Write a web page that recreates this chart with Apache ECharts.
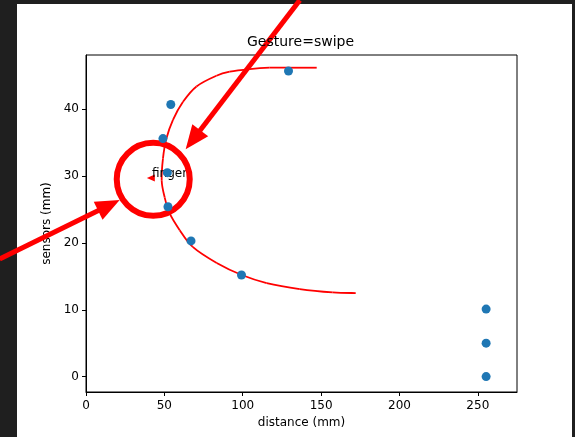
<!DOCTYPE html>
<html>
<head>
<meta charset="utf-8">
<script src="https://cdn.jsdelivr.net/npm/echarts@6/dist/echarts.min.js"></script>
<style>
  html, body { margin: 0; padding: 0; background: #1f1f1f; }
  #paper { position: absolute; left: 17px; top: 4px; width: 555px; height: 433px; background: #fff; }
  #main { position: absolute; left: 0; top: 0; width: 575px; height: 437px; }
</style>
</head>
<body>
<div id="paper"></div>
<div id="main"></div>
<script>
// sensor readings
var pointX = [54.1, 49.1, 51.9, 52.3, 67.0, 99.2, 129.2, 255.3, 255.3, 255.3];
var pointY = [40.7, 35.6, 30.5, 25.4, 20.3, 15.2, 45.7, 10.1, 5.0, 0];

// fitted red curve
var curveX = [147.2, 129.9, 117.2, 104.5, 91.7, 83.2, 70.5, 61.9, 55.5, 51.3, 49.1, 48.3,
              50.2, 53.4, 59.8, 68.1, 83.4, 99.4, 115.3, 136.4, 157.4, 172.1];
var curveY = [46.2, 46.2, 46.2, 46.0, 45.6, 45.0, 43.4, 41.1, 38.4, 35.6, 32.6, 29.3,
              26.8, 24.4, 21.9, 19.4, 17.0, 15.2, 14.0, 13.1, 12.6, 12.5];

// axis ticks
var xTicks = [0, 50, 100, 150, 200, 250];
var yTicks = [0, 10, 20, 30, 40];

// hand drawn annotations (data units)
var arrowStarts = [[-55.1, 17.6], [136.4, 56.3]];
var arrowEnds = [[21.5, 26.4], [63.6, 34.0]];
var ringCenter = [42.9, 29.5];
var labelText = 'finger';
var labelPos = [42.1, 30.3];
var pointerTip = [38.8, 29.7];

var chart = echarts.init(document.getElementById('main'), null, {renderer: 'canvas'});

var points = pointX.map(function (x, i) { return [x, pointY[i]]; });
var curve = curveX.map(function (x, i) { return [x, curveY[i]]; });
var arrows = arrowStarts.map(function (s, i) { return [s[0], s[1], arrowEnds[i][0], arrowEnds[i][1]]; });

var font = '"DejaVu Sans", sans-serif';
var red = '#ff0000';

function axisCommon(ticks) {
  return {
    type: 'value',
    splitLine: {show: false},
    axisLine: {onZero: false, lineStyle: {color: '#000', width: 1}},
    axisTick: {length: 4, lineStyle: {color: '#000'}, customValues: ticks},
    axisLabel: {color: '#000', fontSize: 12, fontFamily: font, customValues: ticks},
    nameTextStyle: {color: '#000', fontSize: 12, fontFamily: font}
  };
}

var xAxis = axisCommon(xTicks);
xAxis.min = 0; xAxis.max = 275;
xAxis.name = 'distance (mm)';
xAxis.nameLocation = 'middle';
xAxis.nameGap = 25;
xAxis.axisLabel.margin = 8;

var yAxis = axisCommon(yTicks);
yAxis.min = -2.3; yAxis.max = 48.1;
yAxis.name = 'sensors (mm)';
yAxis.nameLocation = 'middle';
yAxis.nameGap = 31;
yAxis.axisLabel.margin = 7;

// catmull-rom segment between curve[i] and curve[i+1], in pixels
function curveSegment(params, api) {
  var i = params.dataIndex;
  var n = curve.length;
  if (i >= n - 1) return null;
  var p0 = api.coord(curve[Math.max(i - 1, 0)]);
  var p1 = api.coord(curve[i]);
  var p2 = api.coord(curve[i + 1]);
  var p3 = api.coord(curve[Math.min(i + 2, n - 1)]);
  return {
    type: 'bezierCurve',
    shape: {
      x1: p1[0], y1: p1[1], x2: p2[0], y2: p2[1],
      cpx1: p1[0] + (p2[0] - p0[0]) / 6, cpy1: p1[1] + (p2[1] - p0[1]) / 6,
      cpx2: p2[0] - (p3[0] - p1[0]) / 6, cpy2: p2[1] - (p3[1] - p1[1]) / 6
    },
    style: {fill: 'none', stroke: red, lineWidth: 1.8}
  };
}

chart.setOption({
  animation: false,
  title: {
    text: 'Gesture=swipe',
    left: 247, top: 35, padding: 0,
    textStyle: {color: '#000', fontSize: 14, fontWeight: 'normal', fontFamily: font}
  },
  grid: {left: 86, right: 58, top: 55, bottom: 45, show: true, borderColor: '#000', borderWidth: 1},
  xAxis: xAxis,
  yAxis: yAxis,
  series: [
    {
      type: 'scatter',
      data: points,
      symbolSize: 9,
      itemStyle: {color: '#1f77b4', opacity: 1}
    },
    {
      type: 'custom',
      data: curve,
      renderItem: curveSegment
    },
    {
      type: 'custom',
      data: [[labelPos[0], labelPos[1], pointerTip[0], pointerTip[1]]],
      renderItem: function (params, api) {
        var p = api.coord([api.value(0), api.value(1)]);
        var t = api.coord([api.value(2), api.value(3)]);
        return {
          type: 'group',
          children: [
            {type: 'polygon', shape: {points: [[t[0], t[1]], [t[0] + 8, t[1] - 3.5], [t[0] + 8, t[1] + 3.5]]},
             style: {fill: red}},
            {type: 'text', x: p[0], y: p[1],
             style: {text: labelText, fill: '#000', font: '12px ' + font, align: 'left', verticalAlign: 'middle'}}
          ]
        };
      }
    },
    {
      type: 'custom',
      data: [ringCenter],
      renderItem: function (params, api) {
        var c = api.coord([api.value(0), api.value(1)]);
        return {type: 'circle', shape: {cx: c[0], cy: c[1], r: 36.5},
                style: {fill: 'none', stroke: red, lineWidth: 6}};
      }
    },
    {
      type: 'custom',
      data: arrows,
      renderItem: function (params, api) {
        var a = api.coord([api.value(0), api.value(1)]);
        var b = api.coord([api.value(2), api.value(3)]);
        var dx = b[0] - a[0], dy = b[1] - a[1];
        var len = Math.sqrt(dx * dx + dy * dy);
        var ux = dx / len, uy = dy / len;
        var L = 24, W = 10;
        var bx = b[0] - ux * L, by = b[1] - uy * L;
        return {
          type: 'group',
          children: [
            {type: 'line', shape: {x1: a[0], y1: a[1], x2: bx + ux * 2, y2: by + uy * 2},
             style: {stroke: red, lineWidth: 5}},
            {type: 'polygon', shape: {points: [[b[0], b[1]], [bx - uy * W, by + ux * W], [bx + uy * W, by - ux * W]]},
             style: {fill: red}}
          ]
        };
      }
    }
  ]
});
</script>
</body>
</html>
